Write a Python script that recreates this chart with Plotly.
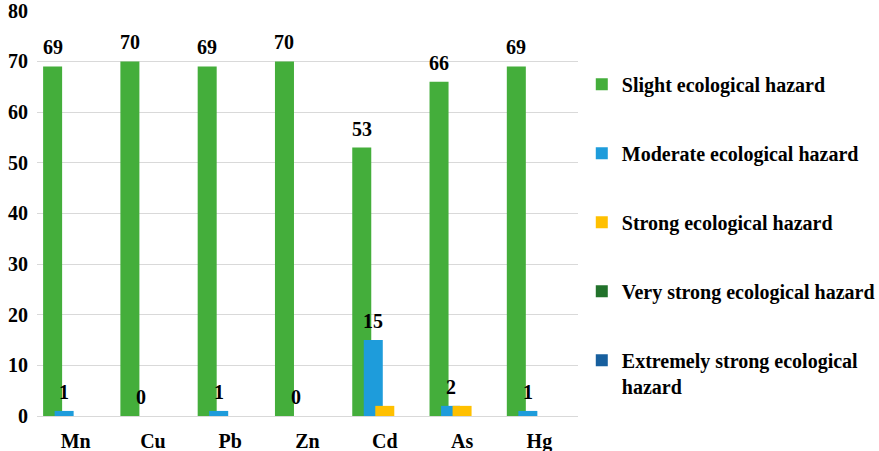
import plotly.graph_objects as go

categories = ["Mn", "Cu", "Pb", "Zn", "Cd", "As", "Hg"]
slight = [69, 70, 69, 70, 53, 66, 69]
moderate = [1, 0, 1, 0, 15, 2, 1]
strong = [0, 0, 0, 0, 2, 2, 0]
very_strong = [0, 0, 0, 0, 0, 0, 0]
extremely_strong = [0, 0, 0, 0, 0, 0, 0]

series_names = [
    "Slight ecological hazard",
    "Moderate ecological hazard",
    "Strong ecological hazard",
    "Very strong ecological hazard",
    "Extremely strong ecological<br>hazard",
]
series_values = [slight, moderate, strong, very_strong, extremely_strong]
colors = ["#44AE3B", "#1E9CDB", "#FFC000", "#22722B", "#175F9E"]
show_labels = [True, True, False, False, False]

FONT = "Liberation Serif"
FS = 20
bar_w = 0.246
step = 0.149

def bold(size=FS):
    return dict(family=FONT, size=size, color="#000000", weight="bold")

fig = go.Figure()
annotations = []
for i, (name, vals, col, lab) in enumerate(zip(series_names, series_values, colors, show_labels)):
    center = (i - 2) * step
    fig.add_trace(go.Bar(
        x=categories, y=vals, name=name,
        marker=dict(color=col, line=dict(width=0)),
        width=bar_w, offset=center - bar_w / 2,
        legendgroup=f"g{i}",
        hoverinfo="x+y+name",
    ))
    if lab:
        for j, v in enumerate(vals):
            annotations.append(dict(
                x=j + center, y=v, xref="x", yref="y",
                text=str(v), showarrow=False,
                yanchor="bottom", xanchor="center", yshift=6,
                font=bold(),
            ))

fig.update_layout(
    barmode="overlay",
    width=879, height=451,
    margin=dict(l=37, r=301, t=10, b=35, autoexpand=False),
    paper_bgcolor="white", plot_bgcolor="white",
    font=bold(),
    showlegend=True,
    annotations=annotations,
    legend=dict(
        x=1.007, xanchor="left", y=0.865, yanchor="top",
        traceorder="grouped", tracegroupgap=40, valign="top",
        font=bold(),
        itemwidth=30,
        bgcolor="rgba(0,0,0,0)",
    ),
    xaxis=dict(
        tickfont=bold(),
        showgrid=False, showline=False, ticks="",
        automargin=False, ticklabelstandoff=11,
        range=[-0.5, 6.5],
    ),
    yaxis=dict(
        range=[0, 80.15], tickmode="linear", tick0=0, dtick=10,
        tickfont=bold(),
        showgrid=True, gridcolor="#D9D9D9", gridwidth=1,
        zeroline=True, zerolinecolor="#D9D9D9", zerolinewidth=1,
        ticks="", showline=False,
        automargin=False, ticklabelstandoff=8, ticklabeloverflow="allow",
    ),
)

fig.write_html(
    "out.html",
    config={"displayModeBar": False},
    post_script="document.body.style.margin='0';document.body.style.overflow='hidden';",
)
